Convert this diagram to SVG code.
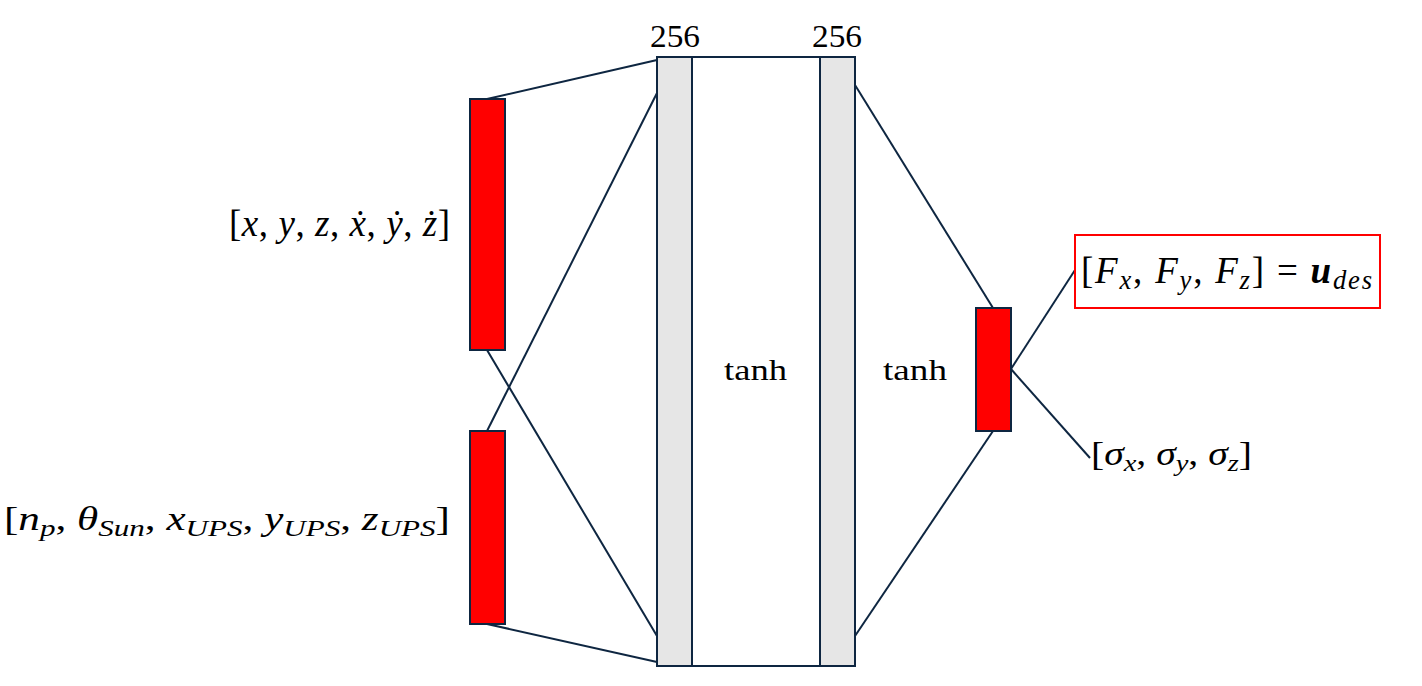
<svg xmlns="http://www.w3.org/2000/svg" width="1422" height="686" viewBox="0 0 1422 686">
<style>
.ln{stroke:#0e2641;stroke-width:2;fill:none}
.red{fill:#ff0000;stroke:#0e2641;stroke-width:2}
.gray{fill:#e6e6e6;stroke:#0e2641;stroke-width:2}
text{font-family:"Liberation Serif","Times New Roman",serif;fill:#000}
.m{font-style:italic}
.u{font-style:normal}
.s{font-size:72%}
</style>
<rect width="1422" height="686" fill="#fff"/>
<g id="connectors">
<line class="ln" x1="487" y1="99" x2="657" y2="60"/>
<line class="ln" x1="487" y1="431" x2="657" y2="93"/>
<line class="ln" x1="487" y1="350" x2="657" y2="636"/>
<line class="ln" x1="487" y1="624" x2="657" y2="662"/>
<line class="ln" x1="855" y1="85" x2="993" y2="308"/>
<line class="ln" x1="855" y1="636" x2="993" y2="431"/>
<line class="ln" x1="1011" y1="369" x2="1075" y2="270"/>
<line class="ln" x1="1011" y1="369" x2="1090" y2="458"/>
</g>
<g id="hidden-block">
<rect x="657" y="57" width="198" height="609" fill="#fff" stroke="#0e2641" stroke-width="2"/>
</g>
<g id="layer1">
<rect class="gray" x="657" y="57" width="35" height="609"/>
<text x="650" y="47" font-size="32" textLength="50" lengthAdjust="spacingAndGlyphs">256</text>
</g>
<g id="layer2">
<rect class="gray" x="820" y="57" width="35" height="609"/>
<text x="812" y="47" font-size="32" textLength="50" lengthAdjust="spacingAndGlyphs">256</text>
</g>
<g id="act1"><text x="724" y="380" font-size="29" textLength="63" lengthAdjust="spacingAndGlyphs">tanh</text></g>
<g id="act2"><text x="883" y="380" font-size="29" textLength="64" lengthAdjust="spacingAndGlyphs">tanh</text></g>
<g id="input-state">
<rect class="red" x="470" y="99" width="35" height="251"/>
<text class="m" x="229" y="236" font-size="37" textLength="221" lengthAdjust="spacing"><tspan class="u">[</tspan>x<tspan class="u">, </tspan>y<tspan class="u">, </tspan>z<tspan class="u">, </tspan>ẋ<tspan class="u">, </tspan>ẏ<tspan class="u">, </tspan>ż<tspan class="u">]</tspan></text>
</g>
<g id="input-extra">
<rect class="red" x="470" y="431" width="35" height="193"/>
<text class="m" x="4" y="530" font-size="33" textLength="446" lengthAdjust="spacingAndGlyphs"><tspan class="u">[</tspan>n<tspan class="s" dy="6">p</tspan><tspan class="u" dy="-6">, </tspan>θ<tspan class="s" dy="6">Sun</tspan><tspan class="u" dy="-6">, </tspan>x<tspan class="s" dy="6">UPS</tspan><tspan class="u" dy="-6">, </tspan>y<tspan class="s" dy="6">UPS</tspan><tspan class="u" dy="-6">, </tspan>z<tspan class="s" dy="6">UPS</tspan><tspan class="u" dy="-6">]</tspan></text>
</g>
<g id="output">
<rect class="red" x="976" y="308" width="35" height="123"/>
</g>
<g id="output-force">
<rect x="1075" y="235" width="305" height="73" fill="none" stroke="#ff0000" stroke-width="2"/>
<text class="m" x="1081" y="283" font-size="37" textLength="291" lengthAdjust="spacing"><tspan class="u">[</tspan>F<tspan class="s" dy="6">x</tspan><tspan class="u" dy="-6">, </tspan>F<tspan class="s" dy="6">y</tspan><tspan class="u" dy="-6">, </tspan>F<tspan class="s" dy="6">z</tspan><tspan class="u" dy="-6">] = </tspan><tspan font-weight="bold">u</tspan><tspan class="s" dy="6">des</tspan></text>
</g>
<g id="output-sigma">
<text class="m" x="1091" y="465" font-size="33" textLength="161" lengthAdjust="spacingAndGlyphs"><tspan class="u">[</tspan>σ<tspan class="s" dy="6">x</tspan><tspan class="u" dy="-6">, </tspan>σ<tspan class="s" dy="6">y</tspan><tspan class="u" dy="-6">, </tspan>σ<tspan class="s" dy="6">z</tspan><tspan class="u" dy="-6">]</tspan></text>
</g>
</svg>
